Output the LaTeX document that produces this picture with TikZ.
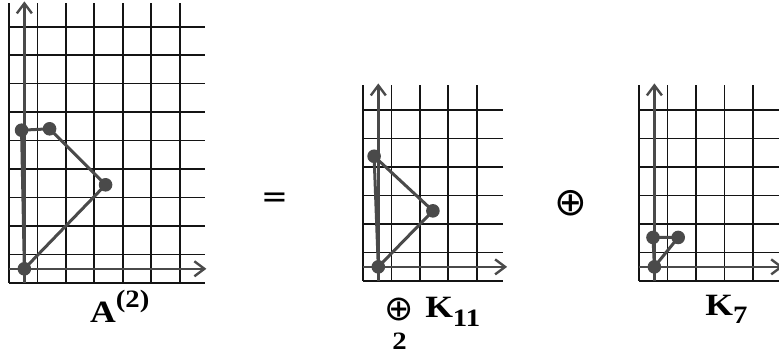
\documentclass[tikz,border=0pt]{standalone}
\usepackage{fontspec}
\setmainfont[FakeStretch=1.15]{Liberation Serif}
\newfontfamily\symfont{DejaVu Sans}
\usetikzlibrary{arrows.meta}
\definecolor{ink}{HTML}{141414}
\definecolor{pen}{HTML}{4A4A4A}
\tikzset{
  gridline/.style={ink, line width=1.7pt},
  axisline/.style={pen, line width=2.4pt, -{Straight Barb[length=10pt,width=15pt]}},
  edgeline/.style={pen, line width=3pt},
  lbl/.style={inner sep=0pt, font=\fontsize{31}{36}\selectfont\bfseries},
  sym/.style={inner sep=0pt},
}
\newcommand{\subtxt}[2]{\raisebox{#1}{\fontsize{25}{30}\selectfont\bfseries #2}}

\begin{document}
\begin{tikzpicture}[x=28pt,y=28pt]
  \useasboundingbox (0,0) rectangle (27.82,12.64);
  \clip (0,0) rectangle (27.82,12.64);

  % A^(2)
  \begin{scope}[shift={(0.32,2.54)}]
    \draw[gridline] (0,0) grid (7,10);
    \draw[axisline] (0.55,0) -- (0.55,10.05);
    \draw[axisline] (0,0.5) -- (7.05,0.5);
    \begin{scope}[shift={(0.55,0.5)}]
      \coordinate (a0) at (0,0);
      \coordinate (a1) at (2.9,3);
      \coordinate (a2) at (0.9,5);
      \coordinate (a3) at (-0.1,4.95);
      \draw[edgeline] (a0) -- (a1) -- (a2) -- (a3) -- (a0);
      \foreach \p in {a0,a1,a2,a3} \fill[pen] (\p) circle (6.8pt);
    \end{scope}
  \end{scope}

  % K_11
  \begin{scope}[shift={(12.96,2.61)}]
    \draw[gridline] (0,0) grid (5,7);
    \draw[axisline] (0.55,0) -- (0.55,7.05);
    \draw[axisline] (0,0.5) -- (5.15,0.5);
    \begin{scope}[shift={(0.55,0.5)}]
      \coordinate (b0) at (0,0);
      \coordinate (b1) at (1.95,2);
      \coordinate (b2) at (-0.15,3.95);
      \draw[edgeline] (b0) -- (b1) -- (b2) -- (b0);
      \foreach \p in {b0,b1,b2} \fill[pen] (\p) circle (6.8pt);
    \end{scope}
  \end{scope}

  % K_7
  \begin{scope}[shift={(22.82,2.61)}]
    \draw[gridline] (0,0) grid (5,7);
    \draw[axisline] (0.55,0) -- (0.55,7.05);
    \draw[axisline] (0,0.5) -- (5.15,0.5);
    \begin{scope}[shift={(0.55,0.5)}]
      \coordinate (c0) at (0,0);
      \coordinate (c1) at (0.85,1.05);
      \coordinate (c2) at (-0.05,1.05);
      \draw[edgeline] (c0) -- (c1) -- (c2) -- (c0);
      \foreach \p in {c0,c1,c2} \fill[pen] (\p) circle (6.8pt);
    \end{scope}
  \end{scope}

  \node[sym, font=\symfont\fontsize{32}{32}\selectfont] (eq) at (9.82,5.5) {=};
  \node[sym, font=\symfont\fontsize{39}{39}\selectfont] (plus) at (20.39,5.39) {⊕};

  \node[lbl, anchor=base west] (labA) at (3.21,1.11) {A\subtxt{15pt}{(2)}};
  \node[sym, font=\symfont\fontsize{35}{35}\selectfont] (sumop) at (14.25,1.58) {⊕};
  \node[sym, anchor=base, font=\fontsize{25}{25}\selectfont\bfseries] (sumidx) at (14.27,0.15) {2};
  \node[lbl, anchor=base west] (labK11) at (15.18,1.29) {K\subtxt{-9pt}{11}};
  \node[lbl, anchor=base west] (labK7) at (25.18,1.39) {K\subtxt{-8pt}{7}};
\end{tikzpicture}
\end{document}
